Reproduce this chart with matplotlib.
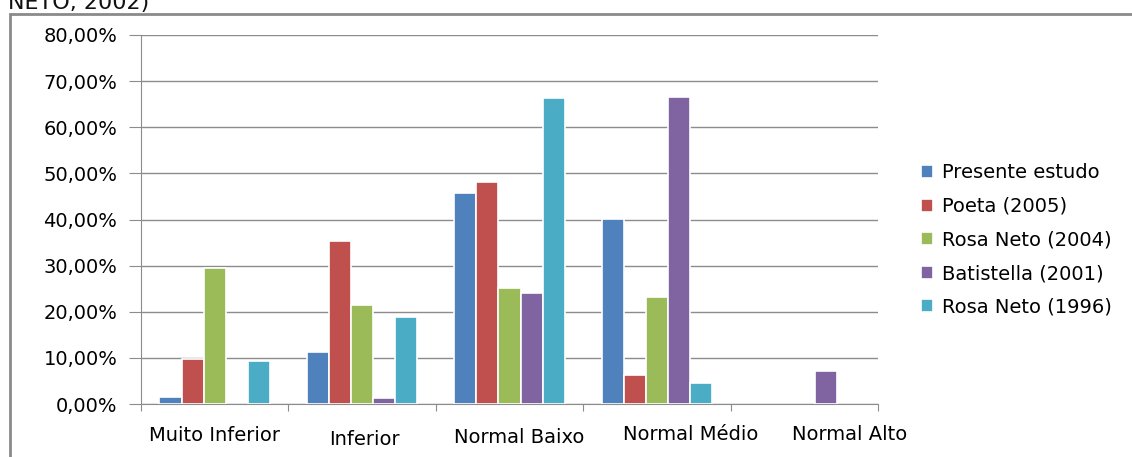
import matplotlib
matplotlib.use("Agg")
from matplotlib import pyplot as plt
from matplotlib.patches import Rectangle
from matplotlib.ticker import FuncFormatter, MultipleLocator
from matplotlib.transforms import ScaledTranslation
import numpy as np

categorias = ["Muito Inferior", "Inferior", "Normal Baixo", "Normal Médio", "Normal Alto"]

presente_estudo = [1.6, 11.3, 45.8, 40.1, 0.0]
poeta_2005 = [9.7, 35.4, 48.1, 6.2, 0.0]
rosa_neto_2004 = [29.4, 21.5, 25.2, 23.3, 0.0]
batistella_2001 = [0.0, 1.2, 24.0, 66.6, 7.2]
rosa_neto_1996 = [9.4, 18.9, 66.4, 4.5, 0.0]

series = [
    ("Presente estudo", presente_estudo, "#4F81BD"),
    ("Poeta (2005)", poeta_2005, "#C0504D"),
    ("Rosa Neto (2004)", rosa_neto_2004, "#9BBB59"),
    ("Batistella (2001)", batistella_2001, "#8064A2"),
    ("Rosa Neto (1996)", rosa_neto_1996, "#4BACC6"),
]

# the original labels are drawn a little off their slots (pixels: dx, dy)
label_shift = [(0, 0), (2, -4), (10, -2), (34, 1), (45, 1)]

plt.rcParams["font.family"] = "DejaVu Sans"

fig = plt.figure(figsize=(11.32, 4.57), dpi=100)
W, H = 1132, 457

# outer chart frame (cut by the page on the right and bottom)
fig.patches.append(Rectangle((10 / W, -0.05), 1.2, (H - 14) / H + 0.05,
                             transform=fig.transFigure, fill=False,
                             edgecolor="#8a8a8a", linewidth=2))
fig.text(8 / W, 1 - 9 / H, "NETO, 2002)", fontsize=16, va="baseline",
         ha="left", color="#111111")

ax = fig.add_axes([141 / W, (H - 404) / H, (878 - 141) / W, (404 - 35) / H])

x = np.arange(len(categorias))
bw = 0.15
for i, (nome, vals, cor) in enumerate(series):
    h = np.array(vals, dtype=float)
    h[h == 0] = np.nan  # empty slots: no bar at all
    ax.bar(x + (i - 2) * bw, h, bw, color=cor, edgecolor="white",
           linewidth=1.2, label=nome, zorder=3)

ax.set_xlim(-0.5, len(categorias) - 0.5)
ax.set_ylim(0, 80)
ax.yaxis.set_major_locator(MultipleLocator(10))
ax.yaxis.set_major_formatter(FuncFormatter(lambda v, p: f"{v:.2f}%".replace(".", ",")))
ax.grid(axis="y", color="#8c8c8c", linewidth=1, zorder=0)

ax.set_xticks(np.arange(len(categorias) + 1) - 0.5)
ax.set_xticklabels([])
ax.tick_params(axis="x", which="major", length=5, direction="out", color="#8c8c8c")
ax.tick_params(axis="y", length=9, color="#8c8c8c", labelsize=14, pad=8)

for xi, nome, (dx, dy) in zip(x, categorias, label_shift):
    off = ScaledTranslation(dx / 100, dy / 100, fig.dpi_scale_trans)
    ax.text(xi, -0.085, nome, transform=ax.get_xaxis_transform() + off,
            ha="center", va="center", fontsize=14)

for s in ["top", "right"]:
    ax.spines[s].set_visible(False)
ax.spines["left"].set_color("#8c8c8c")
ax.spines["bottom"].set_color("#8c8c8c")

ax.legend(loc="center left", bbox_to_anchor=(903 / W, (H - 240) / H),
          bbox_transform=fig.transFigure, frameon=False, fontsize=14,
          handlelength=0.65, handleheight=0.65, handletextpad=0.45,
          labelspacing=0.75)

fig.savefig("out.png", dpi=100)
